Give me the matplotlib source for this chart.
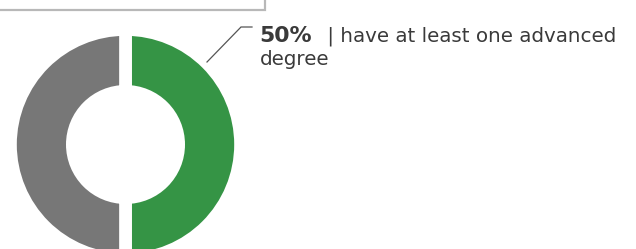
import matplotlib
matplotlib.use("Agg")
import matplotlib.pyplot as plt
from matplotlib.patches import Rectangle

# data
labels = ["Advanced degree", "No advanced degree"]
values = [50, 50]
colors = ["#359445", "#777777"]
pct_label = "50%"
desc_line1 = " | have at least one advanced"
desc_line2 = "degree"

W, H = 636, 249
fig = plt.figure(figsize=(W / 100, H / 100), dpi=100)
ax = fig.add_axes([0, 0, 1, 1])
ax.set_xlim(0, W)
ax.set_ylim(0, H)
ax.set_aspect("equal")
ax.axis("off")

def py(y):
    return H - y

# donut
cx, cy = 125.5, 144.5
R_out, R_in = 108.7, 59.5
gap = 12.7  # px
lw_pt = gap * 72 / 100
ax.pie(values, colors=colors, startangle=90, counterclock=False,
       center=(cx, py(cy)), radius=R_out + gap / 2,
       wedgeprops=dict(width=(R_out + gap / 2) - (R_in - gap / 2),
                       edgecolor="white", linewidth=lw_pt))
ax.set_xlim(0, W)
ax.set_ylim(0, H)

# box at top
ax.add_patch(Rectangle((-20, py(10.3)), 264.5 + 20, 40, facecolor="none",
                       edgecolor="#b8b8b8", linewidth=1.6, clip_on=False))

# leader line
ax.plot([207, 241, 252], [py(62), py(27), py(27)], color="#555555", lw=0.9,
        solid_joinstyle="miter")

fam = ["DejaVu Sans"]
tcol = "#3a3a3a"
fs = 14.3
t1 = ax.text(259.5, py(42), pct_label, fontsize=15.8, fontweight="bold",
             family=fam, color=tcol, va="baseline", ha="left")
ax.annotate(desc_line1, xy=(1, 0), xycoords=t1, xytext=(6.5, 0),
            textcoords="offset points", va="bottom", ha="left",
            fontsize=fs, family=fam, color=tcol)
ax.text(259.5, py(65), desc_line2, fontsize=fs, family=fam, color=tcol,
        va="baseline", ha="left")

fig.savefig("out.png", dpi=100)
